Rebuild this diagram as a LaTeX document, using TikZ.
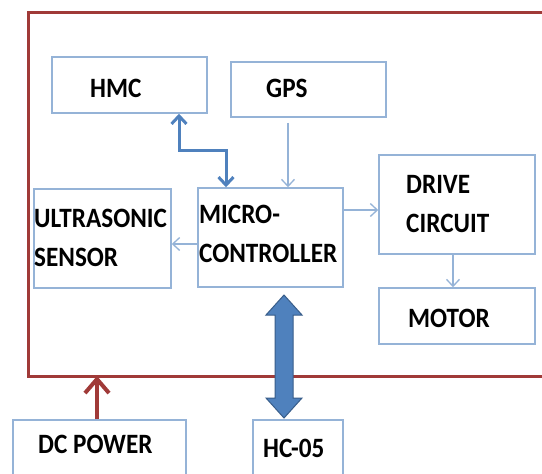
\documentclass[tikz,border=0pt]{standalone}
\usepackage{fontspec}
\setmainfont{Carlito}[FakeStretch=0.9]
\usetikzlibrary{arrows.meta,fit,calc}
\definecolor{boxblue}{RGB}{149,179,215}
\definecolor{arrowblue}{RGB}{79,129,189}
\definecolor{darkblue}{RGB}{56,93,138}
\definecolor{redline}{RGB}{160,58,56}
\begin{document}
\begin{tikzpicture}[x=1pt,y=-1pt,
  box/.style={draw=boxblue,line width=1.5pt,inner sep=0pt,fill=white},
  lbl/.style={anchor=base west,inner sep=0pt,font=\fontsize{28}{34}\selectfont\bfseries,text=black},
  thin/.style={draw=boxblue,line width=1.3pt,-{Straight Barb[length=7pt,width=13pt]}},
  thickarr/.style={draw=arrowblue,line width=3pt,{Straight Barb[length=8pt,width=15pt]}-{Straight Barb[length=8pt,width=15pt]}},
  power/.style={draw=redline,line width=4pt,-{Straight Barb[length=14pt,width=24pt]}}]
\fill[white] (0,0) rectangle (542,474);
\useasboundingbox (0,0) rectangle (542,474);
% outer frame
\draw[redline,line width=3pt] (28,12) rectangle (570,376);
% boxes
\node[box,fit={(52,57) (207,113)}] (hmc) {};
\node[box,fit={(231,62) (386,117)}] (gps) {};
\node[box,fit={(34,189) (171,288)}] (ultra) {};
\node[box,fit={(198,188) (343,287)}] (micro) {};
\node[box,fit={(379,155) (535,254)}] (drive) {};
\node[box,fit={(379,288) (535,344)}] (motor) {};
\node[box,fit={(13,420) (186,495)}] (dc) {};
\node[box,fit={(253,420) (343,495)}] (hc) {};
% labels
\node[lbl] (thmc) at (90,97) {HMC};
\node[lbl] (tgps) at (266,97) {GPS};
\node[lbl] (tult1) at (34,227) {ULTRASONIC};
\node[lbl] (tult2) at (34,266) {SENSOR};
\node[lbl] (tmic1) at (199,223) {MICRO-};
\node[lbl] (tmic2) at (199,262) {CONTROLLER};
\node[lbl] (tdrv1) at (406,193) {DRIVE};
\node[lbl] (tdrv2) at (406,232) {CIRCUIT};
\node[lbl] (tmot) at (408,327) {MOTOR};
\node[lbl] (tdc) at (38,453) {DC POWER};
\node[lbl] (thc) at (263,457) {HC-05};
% connector helper coordinates
\coordinate (h1) at (179,150);
\coordinate (h2) at (226,150);
\coordinate (gx) at (288,0);
\coordinate (uy) at (0,244);
\coordinate (dy) at (0,210);
\coordinate (mx) at (453,0);
\coordinate (px) at (97,376);
% connectors
\draw[thickarr] (hmc.south -| h1) -- (h1) -- (h2) -- (micro.north -| h2);
\draw[thin,shorten <=5pt] (gps.south -| gx) -- (micro.north -| gx);
\draw[thin] (micro.west |- uy) -- (ultra.east |- uy);
\draw[thin] (micro.east |- dy) -- (drive.west |- dy);
\draw[thin] (drive.south -| mx) -- (motor.north -| mx);
\draw[power] (dc.north -| px) -- (px);
% HC-05 double arrow between micro and hc
\coordinate (at) at (284,295);
\coordinate (ab) at (284,418);
\draw[darkblue,line width=1pt,fill=arrowblue]
  (at) -- ++(-18,20) -- ++(9,0) -- ++(0,83) -- ++(-9,0) -- (ab)
  -- ++(18,-20) -- ++(-9,0) -- ++(0,-83) -- ++(9,0) -- cycle;
\end{tikzpicture}
\end{document}
